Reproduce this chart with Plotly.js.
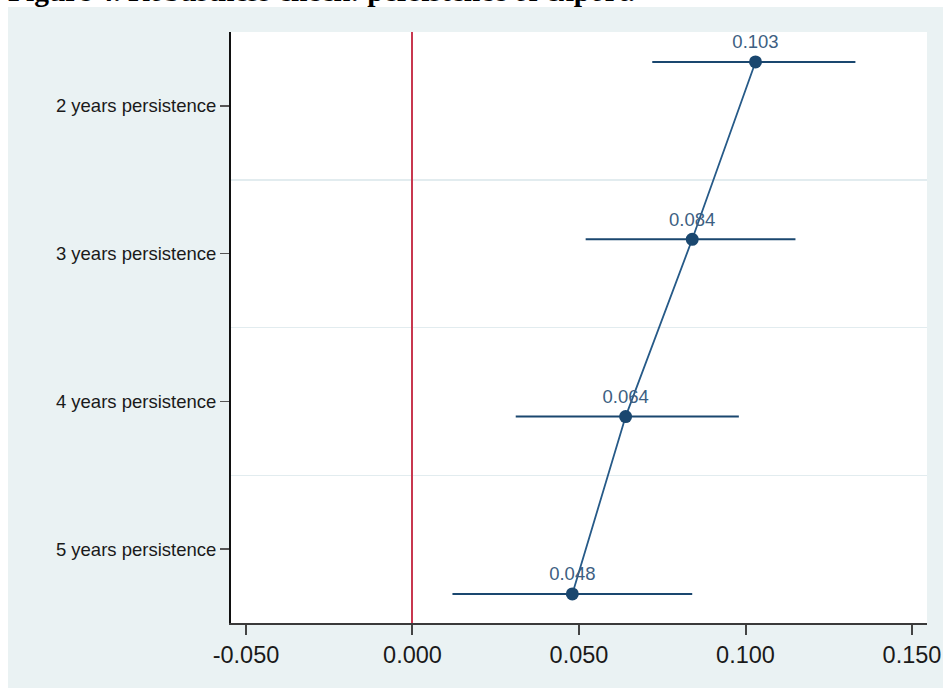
<!DOCTYPE html>
<html>
<head>
<meta charset="utf-8">
<script src="https://cdn.plot.ly/plotly-3.0.1.min.js"></script>
<style>
html,body{margin:0;padding:0;background:#ffffff;}
#chart{width:943px;height:688px;}
</style>
</head>
<body>
<div id="chart"></div>
<script>
// ---- data ----
const categories = ["2 years persistence", "3 years persistence", "4 years persistence", "5 years persistence"];
const coef   = [0.103, 0.084, 0.064, 0.048];
const ciLow  = [0.072, 0.052, 0.031, 0.012];
const ciHigh = [0.133, 0.115, 0.098, 0.084];
const coefLabels = ["0.103", "0.084", "0.064", "0.048"];
const xTickVals = [-0.05, 0, 0.05, 0.10, 0.15];
const xTickText = ["-0.050", "0.000", "0.050", "0.100", "0.150"];
const titleText = "Figure 4. Robustness check: persistence of export.";

const navy = "#1a476f";
const catPos = categories.map((c, i) => i + 1);

// invisible helper so the label axis (y) is drawn
const axisHelper = {
  type: "scatter",
  mode: "markers",
  x: coef,
  y: catPos,
  marker: {opacity: 0, size: 1},
  hoverinfo: "skip",
  showlegend: false
};

const trace = {
  type: "scatter",
  mode: "lines+markers+text",
  x: coef,
  y: categories,
  yaxis: "y2",
  text: coefLabels,
  textposition: "top center",
  textfont: {family: "Liberation Sans, Arial, sans-serif", size: 18.5, color: "#3d5f82"},
  line: {color: "#265a88", width: 1.8},
  marker: {size: 13, color: navy},
  error_x: {
    type: "data",
    symmetric: false,
    array: ciHigh.map((h, i) => h - coef[i]),
    arrayminus: ciLow.map((l, i) => coef[i] - l),
    width: 0,
    thickness: 2,
    color: navy
  },
  hoverinfo: "x+y",
  showlegend: false
};

const L = 231, R = 16, T = 32, B = 65;
const W = 943, H = 688;
const pw = W - L - R, ph = H - T - B;

const layout = {
  width: W,
  height: H,
  margin: {l: L, r: R, t: T, b: B, pad: 0},
  paper_bgcolor: "#eaf2f3",
  plot_bgcolor: "#ffffff",
  showlegend: false,
  xaxis: {
    range: [-0.0545, 0.1545],
    tickvals: xTickVals,
    ticktext: xTickText,
    ticks: "outside",
    ticklen: 10,
    tickwidth: 2,
    tickcolor: "#444444",
    tickfont: {family: "Liberation Sans, Arial, sans-serif", size: 23.5, color: "#1a1a1a"},
    showgrid: false,
    zeroline: true,
    zerolinecolor: "#c8374f",
    zerolinewidth: 2,
    showline: true,
    linecolor: "#3a3a3a",
    linewidth: 2,
    fixedrange: true
  },
  yaxis: {
    range: [categories.length + 0.5, 0.5],
    tickvals: catPos,
    ticktext: categories,
    ticks: "outside",
    ticklen: 9,
    tickwidth: 1.5,
    tickcolor: "#555555",
    tickfont: {family: "Liberation Sans, Arial, sans-serif", size: 18.5, color: "#1a1a1a"},
    showgrid: false,
    minor: {tick0: 0.5, dtick: 1, showgrid: true, gridcolor: "#e2ecef", gridwidth: 1.5, ticks: ""},
    zeroline: false,
    showline: true,
    linecolor: "#111111",
    linewidth: 2,
    fixedrange: true
  },
  yaxis2: {
    type: "category",
    overlaying: "y",
    range: [3.164, -0.169],
    showticklabels: false,
    ticks: "",
    showgrid: false,
    zeroline: false,
    showline: false,
    fixedrange: true
  },
  shapes: [
    {type: "rect", xref: "paper", yref: "paper", layer: "above",
     x0: -L / pw - 0.05, x1: 1 + R / pw + 0.05, y0: 1 + (T - 7) / ph, y1: 1 + (T + 10) / ph,
     fillcolor: "#ffffff", line: {width: 0}},
    {type: "rect", xref: "paper", yref: "paper", layer: "above",
     x0: -L / pw - 0.05, x1: (8 - L) / pw, y0: -B / ph - 0.05, y1: 1 + (T + 10) / ph,
     fillcolor: "#ffffff", line: {width: 0}}
  ],
  annotations: [{
    text: "<b>" + titleText + "</b>",
    xref: "paper", yref: "paper",
    x: (6 - L) / pw, y: 1 + (T - 9) / ph,
    xanchor: "left", yanchor: "bottom",
    showarrow: false,
    font: {family: "Liberation Serif, Times New Roman, serif", size: 29.5, color: "#000000"}
  }]
};

Plotly.newPlot("chart", [axisHelper, trace], layout, {displayModeBar: false, staticPlot: true});
</script>
</body>
</html>
